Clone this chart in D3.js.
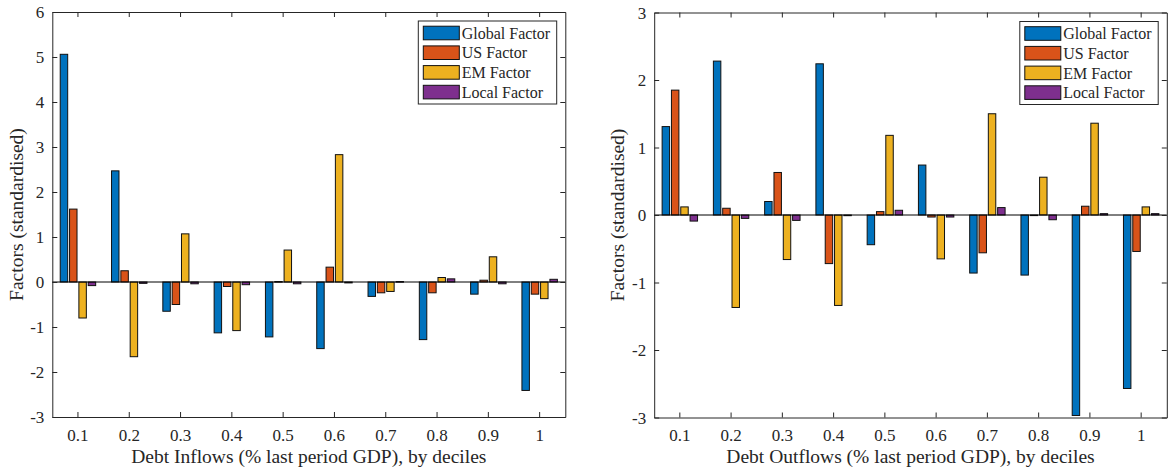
<!DOCTYPE html>
<html>
<head>
<meta charset="utf-8">
<script src="https://cdn.jsdelivr.net/npm/d3@7"></script>
<style>
  html, body { margin: 0; padding: 0; background: #fff; }
  svg { display: block; }
  svg text { font-family: "Liberation Serif", "Times New Roman", Times, "Nimbus Roman", "DejaVu Serif", serif !important; fill: #262626; }
</style>
</head>
<body>
<svg id="chart" width="1169" height="471"></svg>
<script>
// Decile categories shared by both panels
const deciles = ["0.1", "0.2", "0.3", "0.4", "0.5", "0.6", "0.7", "0.8", "0.9", "1"];
const seriesNames = ["Global Factor", "US Factor", "EM Factor", "Local Factor"];
const seriesColors = ["#0072BD", "#D95319", "#EDB120", "#7E2F8E"];

// Debt inflows: factor loadings by decile
const inflowGlobal = [5.06, 2.47, -0.65, -1.13, -1.22, -1.48, -0.32, -1.28, -0.27, -2.41];
const inflowUS     = [1.62, 0.25, -0.50, -0.10, 0.01, 0.33, -0.24, -0.24, 0.04, -0.27];
const inflowEM     = [-0.80, -1.66, 1.07, -1.08, 0.71, 2.83, -0.21, 0.10, 0.56, -0.37];
const inflowLocal  = [-0.08, -0.03, -0.04, -0.06, -0.04, -0.02, 0.01, 0.07, -0.04, 0.06];

// Debt outflows: factor loadings by decile
const outflowGlobal = [1.31, 2.28, 0.20, 2.24, -0.44, 0.74, -0.86, -0.89, -2.97, -2.57];
const outflowUS     = [1.85, 0.10, 0.63, -0.72, 0.05, -0.03, -0.56, 0.00, 0.13, -0.54];
const outflowEM     = [0.12, -1.37, -0.66, -1.34, 1.18, -0.65, 1.50, 0.56, 1.36, 0.12];
const outflowLocal  = [-0.09, -0.05, -0.08, -0.01, 0.07, -0.03, 0.11, -0.07, 0.02, 0.02];

const inflowTicks  = [-3, -2, -1, 0, 1, 2, 3, 4, 5, 6];
const outflowTicks = [-3, -2, -1, 0, 1, 2, 3];

const svg = d3.select("#chart");
const axisColor = "#262626";
const serif = '"Liberation Serif", "Times New Roman", Times, "Nimbus Roman", "DejaVu Serif", serif';

function drawPanel(cfg) {
  const { left, right, top, bottom, yDomain, yTicks, series, xLabel } = cfg;
  const g = svg.append("g");

  const x = d3.scaleBand().domain(deciles).range([left, right]).padding(0);
  // grouped bars: group spans ~0.727 of a category, each bar 80% of its slot
  const groupHalf = x.bandwidth() * 0.3636;
  const xs = d3.scaleBand().domain(d3.range(series.length))
    .range([-groupHalf, groupHalf]).paddingInner(0.2).paddingOuter(0.1);
  const y = d3.scaleLinear().domain(yDomain).range([bottom, top]);

  // bars
  series.forEach((vals, si) => {
    g.append("g").selectAll("rect").data(vals).join("rect")
      .attr("x", (d, i) => x(deciles[i]) + x.bandwidth() / 2 + xs(si))
      .attr("width", xs.bandwidth())
      .attr("y", d => Math.min(y(d), y(0)))
      .attr("height", d => Math.max(Math.abs(y(d) - y(0)), 0.6))
      .attr("fill", seriesColors[si])
      .attr("stroke", "#111")
      .attr("stroke-width", 1);
  });

  // baseline at zero
  g.append("line")
    .attr("x1", left).attr("x2", right)
    .attr("y1", y(0)).attr("y2", y(0))
    .attr("stroke", "#000").attr("stroke-width", 1);

  // axes with inward ticks on all four sides
  const axB = g.append("g").attr("transform", `translate(0,${bottom})`)
    .call(d3.axisBottom(x).tickSizeInner(-5).tickSizeOuter(0).tickPadding(11.5));
  const axT = g.append("g").attr("transform", `translate(0,${top})`)
    .call(d3.axisTop(x).tickSizeInner(-5).tickSizeOuter(0).tickFormat(""));
  const axL = g.append("g").attr("transform", `translate(${left},0)`)
    .call(d3.axisLeft(y).tickValues(yTicks).tickFormat(d => d).tickSizeInner(-5).tickSizeOuter(0).tickPadding(8));
  const axR = g.append("g").attr("transform", `translate(${right},0)`)
    .call(d3.axisRight(y).tickValues(yTicks).tickFormat("").tickSizeInner(-5).tickSizeOuter(0));

  [axB, axT, axL, axR].forEach(a => {
    a.attr("font-family", serif);
    a.select(".domain").attr("stroke", axisColor).attr("stroke-width", 1);
    a.selectAll(".tick line").attr("stroke", axisColor).attr("stroke-width", 1);
    a.selectAll(".tick text")
      .attr("fill", axisColor)
      .style("font-size", "17px");
  });
  axL.selectAll(".tick text").attr("dy", "0.35em");

  // axis titles
  g.append("text")
    .attr("x", (left + right) / 2).attr("y", 463)
    .attr("text-anchor", "middle")
    .style("font-size", "19.5px")
    .text(xLabel);
  g.append("text")
    .attr("transform", `translate(${left - 36},${(top + bottom) / 2}) rotate(-90)`)
    .attr("text-anchor", "middle")
    .attr("dy", "0.32em")
    .style("font-size", "19.5px")
    .text("Factors (standardised)");

  // legend
  const lgW = 138.4, lgH = 83;
  const lgX = right - 8.6 - lgW, lgY = top + 9;
  const lg = g.append("g").attr("transform", `translate(${lgX},${lgY})`);
  lg.append("rect").attr("width", lgW).attr("height", lgH)
    .attr("fill", "#fff").attr("stroke", axisColor).attr("stroke-width", 1);
  const rows = lg.selectAll("g").data(seriesNames).join("g")
    .attr("transform", (d, i) => `translate(0,${12 + i * 19.7})`);
  rows.append("rect")
    .attr("x", 5).attr("y", -6.8).attr("width", 36).attr("height", 13.6)
    .attr("fill", (d, i) => seriesColors[i])
    .attr("stroke", "#111").attr("stroke-width", 1);
  rows.append("text")
    .attr("x", 43.4).attr("y", 5.6)
    .style("font-size", "16px")
    .text(d => d);
}

drawPanel({
  left: 52.3, right: 565.3, top: 12, bottom: 417,
  yDomain: [-3, 6], yTicks: inflowTicks,
  series: [inflowGlobal, inflowUS, inflowEM, inflowLocal],
  xLabel: "Debt Inflows (% last period GDP), by deciles"
});

drawPanel({
  left: 654.2, right: 1166.8, top: 12.5, bottom: 417.5,
  yDomain: [-3, 3], yTicks: outflowTicks,
  series: [outflowGlobal, outflowUS, outflowEM, outflowLocal],
  xLabel: "Debt Outflows (% last period GDP), by deciles"
});
</script>
</body>
</html>
